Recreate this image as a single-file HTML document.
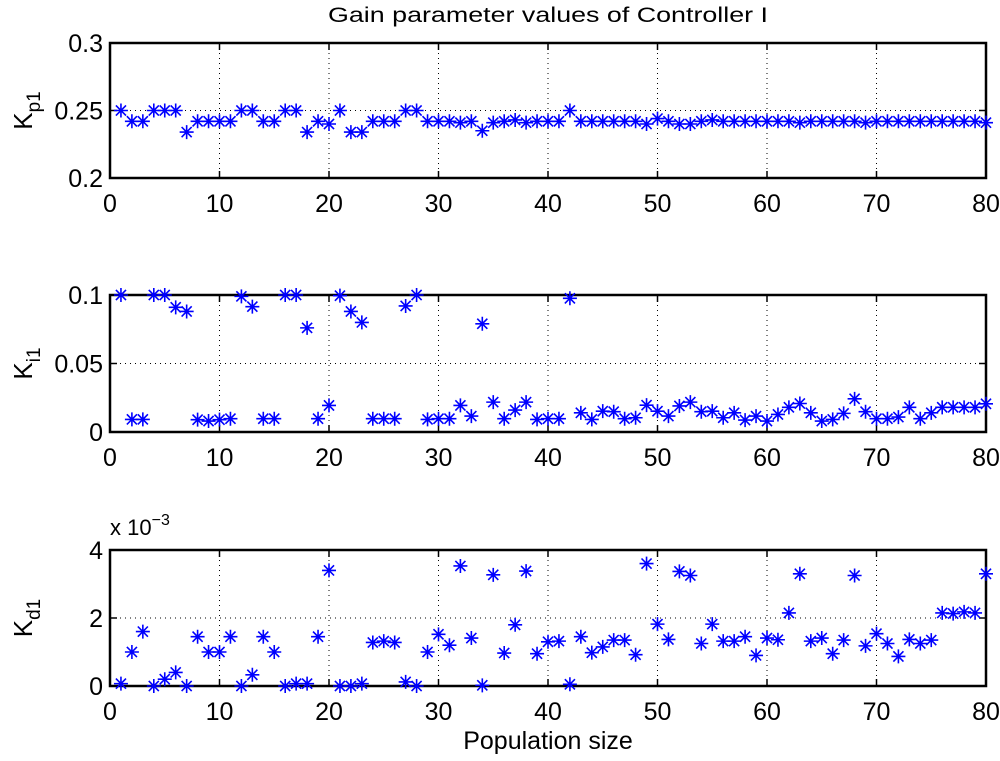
<!DOCTYPE html>
<html><head><meta charset="utf-8"><style>
body{margin:0;background:#fff;}
svg text{font-family:"Liberation Sans",Arial,sans-serif;fill:#000;}
</style></head><body>
<svg id="chart" width="1000" height="756" xmlns="http://www.w3.org/2000/svg">
<text x="548" y="22" font-size="21" text-anchor="middle" textLength="440" lengthAdjust="spacingAndGlyphs">Gain parameter values of Controller I</text>
<text x="548" y="749" font-size="25" text-anchor="middle">Population size</text>
<text x="110" y="535" font-size="22">x 10<tspan dy="-10" font-size="16">−3</tspan></text>
</svg>
<script>
const xs = Array.from({length:80},(_, i)=>i+1);
const kp = [0.25,0.242,0.242,0.25,0.25,0.25,0.234,0.242,0.242,0.242,0.242,0.25,0.25,0.242,0.242,0.25,0.25,0.234,0.242,0.24,
0.25,0.234,0.234,0.242,0.242,0.242,0.25,0.25,0.242,0.242,0.242,0.241,0.242,0.235,0.241,0.242,0.243,0.241,0.242,0.242,
0.242,0.25,0.242,0.242,0.242,0.242,0.242,0.242,0.24,0.244,0.242,0.24,0.24,0.242,0.243,0.242,0.242,0.242,0.242,0.242,
0.242,0.242,0.241,0.242,0.242,0.242,0.242,0.242,0.241,0.242,0.242,0.242,0.242,0.242,0.242,0.242,0.242,0.242,0.242,0.241];
const ki = [0.1,0.0092,0.0092,0.1,0.1,0.091,0.088,0.009,0.008,0.009,0.0097,0.099,0.0915,0.0097,0.0097,0.1,0.1,0.076,0.0097,0.0194,
0.0995,0.088,0.08,0.0097,0.0097,0.0097,0.092,0.1,0.0092,0.0097,0.0097,0.0194,0.0116,0.079,0.0218,0.0097,0.016,0.0218,0.0092,0.0097,
0.0097,0.0976,0.014,0.0092,0.0152,0.0148,0.0097,0.0104,0.0196,0.0152,0.0116,0.019,0.0218,0.0148,0.0152,0.0104,0.014,0.0087,0.0116,0.008,
0.0128,0.018,0.0208,0.014,0.008,0.0092,0.0136,0.0242,0.0148,0.0097,0.0097,0.0109,0.018,0.0097,0.014,0.018,0.018,0.018,0.018,0.0206];
const kd = [0.07,1.0,1.6,0.0,0.2,0.4,0.0,1.45,1.0,1.0,1.45,0.0,0.33,1.45,1.0,0.0,0.07,0.07,1.45,3.4,
0.0,0.0,0.07,1.28,1.32,1.28,0.12,0.0,1.0,1.52,1.2,3.53,1.41,0.02,3.27,0.97,1.8,3.38,0.95,1.3,
1.32,0.05,1.45,0.98,1.15,1.35,1.35,0.92,3.6,1.82,1.37,3.37,3.25,1.25,1.82,1.32,1.32,1.45,0.9,1.41,
1.36,2.15,3.3,1.32,1.41,0.95,1.35,3.25,1.18,1.54,1.25,0.87,1.37,1.25,1.35,2.15,2.13,2.18,2.15,3.3];
const xTicks = [0,10,20,30,40,50,60,70,80];
const kpTicks = ["0.2","0.25","0.3"];
const kiTicks = ["0","0.05","0.1"];
const kdTicks = ["0","2","4"];

const NS="http://www.w3.org/2000/svg";
const svg=document.getElementById('chart');
const X0=110,X1=986;
function sx(v){return X0+(v-0)/(80-0)*(X1-X0);}
function mk(tag,attrs,parent){const e=document.createElementNS(NS,tag);for(const k in attrs)e.setAttribute(k,attrs[k]);(parent||svg).appendChild(e);return e;}

function panel(name,top,bot,ymin,ymax,ticks,vals,lab,sub){
  const g=mk('g',{});
  
  
  const sy=v=>bot-(v-ymin)/(ymax-ymin)*(bot-top);
  xTicks.forEach(t=>{
    if(t>0&&t<80){const l=mk('line',{x1:sx(t),x2:sx(t),y1:top,y2:bot,stroke:'#000','stroke-width':1,'stroke-dasharray':'1,4'},g);
    
    }
    const tk=mk('line',{x1:sx(t),x2:sx(t),y1:bot,y2:bot-7,stroke:'#000','stroke-width':1.5},g);
    
    
    mk('line',{x1:sx(t),x2:sx(t),y1:top,y2:top+7,stroke:'#000','stroke-width':1.5},g);
    const tx=mk('text',{x:sx(t),y:bot+34,'font-size':25,'text-anchor':'middle'},g);
    tx.textContent=t;
    
    
  });
  ticks.forEach(s=>{
    const v=parseFloat(s),y=sy(v);
    if(v>ymin&&v<ymax){const l=mk('line',{x1:X0,x2:X1,y1:y,y2:y,stroke:'#000','stroke-width':1,'stroke-dasharray':'1,4'},g);
    
    }
    mk('line',{x1:X0,x2:X0+7,y1:y,y2:y,stroke:'#000','stroke-width':1.5},g);
    mk('line',{x1:X1,x2:X1-7,y1:y,y2:y,stroke:'#000','stroke-width':1.5},g);
    const tx=mk('text',{x:X0-7,y:y+9,'font-size':25,'text-anchor':'end'},g);
    tx.textContent=s;
    
    
  });
  const box=mk('rect',{x:X0,y:top,width:X1-X0,height:bot-top,fill:'none',stroke:'#000','stroke-width':2.5},g);
  
  
  const rx=7,ry=6;
  vals.forEach((v,i)=>{
    const cx=sx(xs[i]),cy=sy(v);
    const p=mk('path',{d:`M${cx-rx},${cy}H${cx+rx}M${cx},${cy-ry-1}V${cy+ry+1}M${cx-rx*0.72},${cy-ry*0.85}L${cx+rx*0.72},${cy+ry*0.85}M${cx-rx*0.72},${cy+ry*0.85}L${cx+rx*0.72},${cy-ry*0.85}`,stroke:'#0000ff','stroke-width':1.6,fill:'none'},g);
    
    
  });
  const cy=(top+bot)/2;
  const yl=mk('text',{x:0,y:0,'font-size':26,transform:`translate(32,${cy}) rotate(-90)`,'text-anchor':'middle'},g);
  yl.innerHTML=lab+'<tspan dy="8" font-size="19">'+sub+'</tspan>';
  
  
}
panel('kp1',43,178,0.2,0.3,kpTicks,kp,'K','p1');
panel('ki1',295,432,0,0.1,kiTicks,ki,'K','i1');
panel('kd1',550,686,0,4,kdTicks,kd,'K','d1');
</script>
</body></html>
